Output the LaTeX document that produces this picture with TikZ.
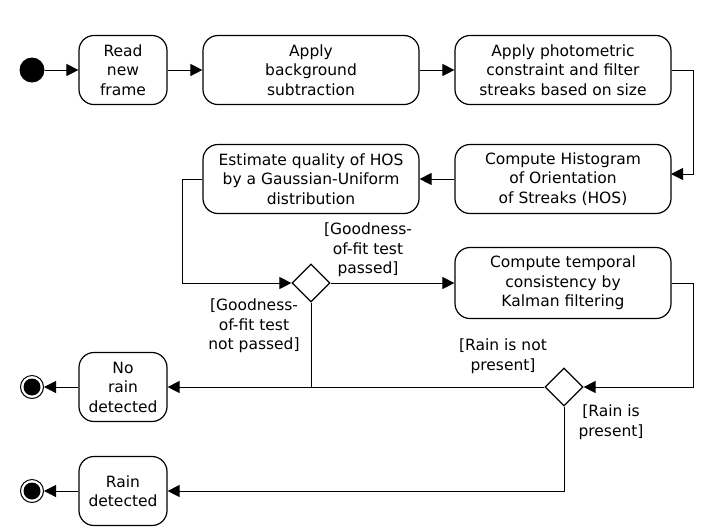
\documentclass[tikz,border=0pt]{standalone}
\usepackage{fontspec}
\setmainfont{DejaVu Sans}
\usetikzlibrary{arrows.meta,shapes.geometric}
\begin{document}
\begin{tikzpicture}[x=1pt,y=-1pt,
  every node/.style={font=\fontsize{15.5}{19.5}\selectfont},
  act/.style={draw,line width=1.2pt,rounded corners=15pt,align=center,inner sep=0pt},
  small/.style={act,minimum width=88pt,minimum height=69pt},
  wide/.style={act,minimum width=216pt,minimum height=69pt},
  dec/.style={draw,line width=1.2pt,diamond,aspect=1,minimum width=38pt,minimum height=38pt,inner sep=0pt},
  guard/.style={align=center,inner sep=0pt},
  flow/.style={line width=1pt,-{Triangle[length=12pt,width=12pt]}},
  plain/.style={line width=1pt}]
\useasboundingbox (0,0) rectangle (719,531);
\node[fill=black,circle,minimum size=25pt,inner sep=0pt] (start) at (32,70) {};
\node[small] (read) at (123,70) {Read\\new\\frame};
\node[wide] (bg) at (311,70) {Apply\\background\\subtraction};
\node[wide] (photo) at (563,70) {Apply photometric\\constraint and filter\\streaks based on size};
\node[wide] (hos) at (563,179) {Compute Histogram\\of Orientation\\of Streaks (HOS)};
\node[wide] (est) at (311,179) {Estimate quality of HOS\\by a Gaussian-Uniform\\distribution};
\node[dec] (d1) at (311,283) {};
\node[wide,minimum height=71pt] (kal) at (563,283) {Compute temporal\\consistency by\\Kalman filtering};
\node[dec] (d2) at (564,387) {};
\node[small] (norain) at (123,387) {No\\rain\\detected};
\node[small] (rain) at (123,491) {Rain\\detected};
\node[draw,line width=1pt,circle,minimum size=23pt,inner sep=0pt] (end1) at (32,387) {};
\node[fill=black,circle,minimum size=17pt,inner sep=0pt] at (end1) {};
\node[draw,line width=1pt,circle,minimum size=23pt,inner sep=0pt] (end2) at (32,491) {};
\node[fill=black,circle,minimum size=17pt,inner sep=0pt] at (end2) {};
\coordinate (hosin) at (671,174);
\coordinate (c1) at (693,70);
\coordinate (c2) at (182,179);
\coordinate (c3) at (693,283);
\draw[flow] (start) -- (read);
\draw[flow] (read) -- (bg);
\draw[flow] (bg) -- (photo);
\draw[flow] (photo.east) -- (c1) |- (hosin);
\draw[flow] (hos) -- (est);
\draw[flow] (est.west) -- (c2) |- (d1.west);
\draw[flow] (d1.east) -- (kal.west);
\draw[flow] (kal.east) -- (c3) |- (d2.east);
\draw[plain] (d1.south) -- (d1.south |- d2.west);
\draw[flow] (d2.west) -- (norain.east);
\draw[flow] (d2.south) |- (rain.east);
\draw[flow] (norain.west) -- (end1);
\draw[flow] (rain.west) -- (end2);
\node[guard] (g1) at (368,250) {[Goodness-\\of-fit test\\passed]};
\node[guard] (g2) at (254,326) {[Goodness-\\of-fit test\\not passed]};
\node[guard] (g3) at (503,356) {[Rain is not\\present]};
\node[guard] (g4) at (611,422) {[Rain is\\present]};
\end{tikzpicture}
\end{document}
